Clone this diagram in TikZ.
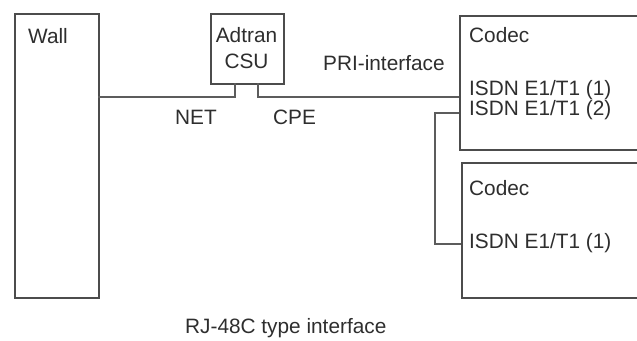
\documentclass[tikz,border=0pt]{standalone}
\usepackage{fontspec}
\setmainfont{Liberation Sans}
\definecolor{linec}{rgb}{0.36,0.36,0.36}
\definecolor{boxc}{rgb}{0.30,0.30,0.30}
\definecolor{txtc}{rgb}{0.18,0.18,0.18}
\begin{document}
\begin{tikzpicture}[x=1pt,y=-1pt,
  box/.style={draw=boxc,line width=1.6pt,fill=white,inner sep=0pt,anchor=north west},
  wire/.style={draw=linec,line width=1.6pt},
  lbl/.style={anchor=base west,inner sep=0pt,text=txtc,font=\fontsize{20.8}{23}\selectfont}]
\useasboundingbox (0,0) rectangle (637,340);
\clip (0,0) rectangle (637,340);
% boxes
\node[box,minimum width=84pt,minimum height=284pt] (wall) at (14,13) {};
\node[box,minimum width=73pt,minimum height=70pt] (csu) at (210,13) {};
\node[box,minimum width=220pt,minimum height=134pt] (codecA) at (459,15) {};
\node[box,minimum width=220pt,minimum height=135pt] (codecB) at (461,162) {};
% connection points
\coordinate (wallp) at (98,97);
\coordinate (netp) at (235,83);
\coordinate (cpep) at (258,83);
\coordinate (codecAin) at (459,97);
\coordinate (codecAout) at (459,113);
\coordinate (bend) at (435,113);
\coordinate (codecBin) at (461,244);
% wires
\draw[wire] (wallp) -| (netp);
\draw[wire] (cpep) |- (codecAin);
\draw[wire] (codecAout) -- (bend) |- (codecBin);
% labels
\node[lbl] (twall) at (28,43) {Wall};
\node[lbl,anchor=base] (tadtran) at (246.5,42) {Adtran};
\node[lbl,anchor=base] (tcsu) at (246.5,68) {CSU};
\node[lbl] (tnet) at (175,124) {NET};
\node[lbl] (tcpe) at (273,124) {CPE};
\node[lbl] (tpri) at (323,70) {PRI-interface};
\node[lbl] (tca) at (469,42) {Codec};
\node[lbl] (tca1) at (469,95) {ISDN E1/T1 (1)};
\node[lbl] (tca2) at (469,115) {ISDN E1/T1 (2)};
\node[lbl] (tcb) at (469,195) {Codec};
\node[lbl] (tcb1) at (469,248) {ISDN E1/T1 (1)};
\node[lbl] (trj) at (185,333) {RJ-48C type interface};
\end{tikzpicture}
\end{document}
